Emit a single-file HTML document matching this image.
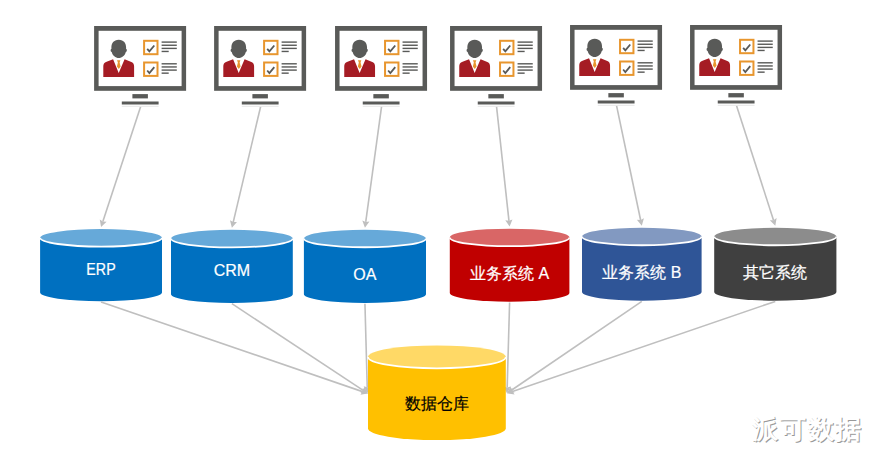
<!DOCTYPE html>
<html><head><meta charset="utf-8">
<style>
html,body{margin:0;padding:0;background:#fff;}
body{width:878px;height:463px;position:relative;overflow:hidden;font-family:"Liberation Sans",sans-serif;}
svg{position:absolute;left:0;top:0;}
.lbl{position:absolute;width:120px;height:20px;line-height:20px;text-align:center;font-size:16px;white-space:nowrap;-webkit-text-stroke:0.2px currentColor;}
.wm{position:absolute;left:752px;top:413.3px;font-size:26px;letter-spacing:1.8px;font-weight:bold;line-height:32px;color:#fff;text-shadow:1px 1px 0 #999;white-space:nowrap;}
</style></head><body>
<svg width="878" height="463" viewBox="0 0 878 463">
<line x1="140.60" y1="106.70" x2="102.86" y2="221.46" stroke="#bfbfbf" stroke-width="1.6"/>
<path d="M101.05 226.97 L99.75 219.39 L102.86 221.46 L106.59 221.63 Z" fill="#bfbfbf"/>
<line x1="260.60" y1="106.70" x2="233.24" y2="222.11" stroke="#bfbfbf" stroke-width="1.6"/>
<path d="M231.90 227.75 L229.97 220.30 L233.24 222.11 L236.97 221.96 Z" fill="#bfbfbf"/>
<line x1="381.55" y1="106.70" x2="365.74" y2="221.91" stroke="#bfbfbf" stroke-width="1.6"/>
<path d="M364.95 227.66 L362.31 220.43 L365.74 221.91 L369.44 221.41 Z" fill="#bfbfbf"/>
<line x1="496.55" y1="106.70" x2="508.97" y2="220.83" stroke="#bfbfbf" stroke-width="1.6"/>
<path d="M509.60 226.60 L505.29 220.23 L508.97 220.83 L512.44 219.45 Z" fill="#bfbfbf"/>
<line x1="616.55" y1="105.70" x2="640.61" y2="219.98" stroke="#bfbfbf" stroke-width="1.6"/>
<path d="M641.80 225.66 L636.88 219.75 L640.61 219.98 L643.92 218.26 Z" fill="#bfbfbf"/>
<line x1="736.55" y1="105.70" x2="773.52" y2="220.14" stroke="#bfbfbf" stroke-width="1.6"/>
<path d="M775.30 225.66 L769.78 220.30 L773.52 220.14 L776.64 218.08 Z" fill="#bfbfbf"/>
<path d="M40.10 237.82 L40.10 292.45 A60.95 8.75 0 0 0 162.00 292.45 L162.00 237.82 Z" fill="#0070c0"/>
<ellipse cx="101.05" cy="237.82" rx="60.95" ry="8.75" fill="#66a9d9"/>
<path d="M40.10 237.82 A60.95 8.75 0 0 0 162.00 237.82" fill="none" stroke="#fff" stroke-width="1.8"/>
<path d="M171.00 238.60 L171.00 294.25 A60.90 8.75 0 0 0 292.80 294.25 L292.80 238.60 Z" fill="#0070c0"/>
<ellipse cx="231.90" cy="238.60" rx="60.90" ry="8.75" fill="#66a9d9"/>
<path d="M171.00 238.60 A60.90 8.75 0 0 0 292.80 238.60" fill="none" stroke="#fff" stroke-width="1.8"/>
<path d="M303.90 238.51 L303.90 294.25 A61.05 8.75 0 0 0 426.00 294.25 L426.00 238.51 Z" fill="#0070c0"/>
<ellipse cx="364.95" cy="238.51" rx="61.05" ry="8.75" fill="#66a9d9"/>
<path d="M303.90 238.51 A61.05 8.75 0 0 0 426.00 238.51" fill="none" stroke="#fff" stroke-width="1.8"/>
<path d="M449.80 237.45 L449.80 292.95 A59.80 8.75 0 0 0 569.40 292.95 L569.40 237.45 Z" fill="#c00000"/>
<ellipse cx="509.60" cy="237.45" rx="59.80" ry="8.75" fill="#d96666"/>
<path d="M449.80 237.45 A59.80 8.75 0 0 0 569.40 237.45" fill="none" stroke="#fff" stroke-width="1.8"/>
<path d="M582.00 236.51 L582.00 291.95 A59.80 8.75 0 0 0 701.60 291.95 L701.60 236.51 Z" fill="#2f5597"/>
<ellipse cx="641.80" cy="236.51" rx="59.80" ry="8.75" fill="#8299c1"/>
<path d="M582.00 236.51 A59.80 8.75 0 0 0 701.60 236.51" fill="none" stroke="#fff" stroke-width="1.8"/>
<path d="M714.20 236.51 L714.20 291.95 A61.10 8.75 0 0 0 836.40 291.95 L836.40 236.51 Z" fill="#404040"/>
<ellipse cx="775.30" cy="236.51" rx="61.10" ry="8.75" fill="#8c8c8c"/>
<path d="M714.20 236.51 A61.10 8.75 0 0 0 836.40 236.51" fill="none" stroke="#fff" stroke-width="1.8"/>
<line x1="101.05" y1="301.90" x2="362.51" y2="391.62" stroke="#bfbfbf" stroke-width="1.6"/>
<path d="M368.00 393.50 L360.40 394.70 L362.51 391.62 L362.74 387.89 Z" fill="#bfbfbf"/>
<line x1="231.90" y1="303.70" x2="363.16" y2="390.31" stroke="#bfbfbf" stroke-width="1.6"/>
<path d="M368.00 393.50 L360.34 392.76 L363.16 390.31 L364.31 386.75 Z" fill="#bfbfbf"/>
<line x1="364.95" y1="303.70" x2="367.24" y2="387.20" stroke="#bfbfbf" stroke-width="1.6"/>
<path d="M367.40 393.00 L363.61 386.30 L367.24 387.20 L370.81 386.10 Z" fill="#bfbfbf"/>
<line x1="509.60" y1="302.40" x2="507.17" y2="387.50" stroke="#bfbfbf" stroke-width="1.6"/>
<path d="M507.00 393.30 L503.60 386.40 L507.17 387.50 L510.79 386.61 Z" fill="#bfbfbf"/>
<line x1="641.80" y1="301.40" x2="511.79" y2="390.03" stroke="#bfbfbf" stroke-width="1.6"/>
<path d="M507.00 393.30 L510.59 386.50 L511.79 390.03 L514.65 392.44 Z" fill="#bfbfbf"/>
<line x1="775.30" y1="301.40" x2="512.49" y2="391.42" stroke="#bfbfbf" stroke-width="1.6"/>
<path d="M507.00 393.30 L512.27 387.69 L512.49 391.42 L514.60 394.50 Z" fill="#bfbfbf"/>
<path d="M368.00 356.90 L368.00 428.60 A68.90 11.40 0 0 0 505.80 428.60 L505.80 356.90 Z" fill="#ffc000"/>
<ellipse cx="436.90" cy="356.90" rx="68.90" ry="11.40" fill="#ffd966"/>
<path d="M368.00 356.90 A68.90 11.40 0 0 0 505.80 356.90" fill="none" stroke="#fff" stroke-width="1.8"/>
<g transform="translate(94.10,26.00)">
<rect x="0" y="0" width="92" height="64.8" fill="#595a58"/>
<rect x="4.5" y="4.8" width="83" height="55.3" fill="#fff"/>
<rect x="38.3" y="68.1" width="15.5" height="4.3" fill="#595a58"/>
<rect x="27.7" y="75.5" width="36.8" height="3" fill="#595a58"/>
<rect x="27.7" y="79.8" width="36.8" height="1" fill="#e6e6e6"/>
<path d="M24.65 13.8 C19.5 13.8 17.3 17.5 17.3 21.5 L17.3 23 C16.3 22.8 16.2 25.8 17.6 26 C18.4 29.5 21.5 32 24.65 32 C27.8 32 30.9 29.5 31.7 26 C33.1 25.8 33 22.8 32 23 L32 21.5 C32 17.5 29.8 13.8 24.65 13.8 Z" fill="#595a58"/>
<path d="M19 33.3 L12.5 35.7 C10 36.7 9.2 38 9.2 40.5 L9.2 50.9 L40 50.9 L40 40.5 C40 38 39.2 36.7 36.7 35.7 L30.5 33.3 L24.6 47 Z" fill="#a51c24"/>
<path d="M22.9 34.2 L26.3 34.2 L25.5 36.6 L26.5 40.5 L24.7 43 L22.8 40.5 L23.8 36.6 Z" fill="#e8962e"/>
<rect x="50" y="14.80" width="13.4" height="13.4" fill="none" stroke="#e8962e" stroke-width="2"/>
<path d="M53.1 22.80 L55.3 25.40 L60.2 19.50" fill="none" stroke="#595a58" stroke-width="1.8"/>
<rect x="50" y="36.50" width="13.4" height="13.4" fill="none" stroke="#e8962e" stroke-width="2"/>
<path d="M53.1 44.50 L55.3 47.10 L60.2 41.20" fill="none" stroke="#595a58" stroke-width="1.8"/>
<rect x="67.5" y="15.40" width="15.2" height="1.4" fill="#595a58"/>
<rect x="67.5" y="18.55" width="15.2" height="1.4" fill="#595a58"/>
<rect x="67.5" y="21.70" width="15.2" height="1.4" fill="#595a58"/>
<rect x="67.5" y="24.75" width="7.1" height="1.4" fill="#595a58"/>
<rect x="67.5" y="37.10" width="15.2" height="1.4" fill="#595a58"/>
<rect x="67.5" y="40.25" width="15.2" height="1.4" fill="#595a58"/>
<rect x="67.5" y="43.40" width="15.2" height="1.4" fill="#595a58"/>
<rect x="67.5" y="46.45" width="7.1" height="1.4" fill="#595a58"/>
</g>
<g transform="translate(214.10,26.00)">
<rect x="0" y="0" width="92" height="64.8" fill="#595a58"/>
<rect x="4.5" y="4.8" width="83" height="55.3" fill="#fff"/>
<rect x="38.3" y="68.1" width="15.5" height="4.3" fill="#595a58"/>
<rect x="27.7" y="75.5" width="36.8" height="3" fill="#595a58"/>
<rect x="27.7" y="79.8" width="36.8" height="1" fill="#e6e6e6"/>
<path d="M24.65 13.8 C19.5 13.8 17.3 17.5 17.3 21.5 L17.3 23 C16.3 22.8 16.2 25.8 17.6 26 C18.4 29.5 21.5 32 24.65 32 C27.8 32 30.9 29.5 31.7 26 C33.1 25.8 33 22.8 32 23 L32 21.5 C32 17.5 29.8 13.8 24.65 13.8 Z" fill="#595a58"/>
<path d="M19 33.3 L12.5 35.7 C10 36.7 9.2 38 9.2 40.5 L9.2 50.9 L40 50.9 L40 40.5 C40 38 39.2 36.7 36.7 35.7 L30.5 33.3 L24.6 47 Z" fill="#a51c24"/>
<path d="M22.9 34.2 L26.3 34.2 L25.5 36.6 L26.5 40.5 L24.7 43 L22.8 40.5 L23.8 36.6 Z" fill="#e8962e"/>
<rect x="50" y="14.80" width="13.4" height="13.4" fill="none" stroke="#e8962e" stroke-width="2"/>
<path d="M53.1 22.80 L55.3 25.40 L60.2 19.50" fill="none" stroke="#595a58" stroke-width="1.8"/>
<rect x="50" y="36.50" width="13.4" height="13.4" fill="none" stroke="#e8962e" stroke-width="2"/>
<path d="M53.1 44.50 L55.3 47.10 L60.2 41.20" fill="none" stroke="#595a58" stroke-width="1.8"/>
<rect x="67.5" y="15.40" width="15.2" height="1.4" fill="#595a58"/>
<rect x="67.5" y="18.55" width="15.2" height="1.4" fill="#595a58"/>
<rect x="67.5" y="21.70" width="15.2" height="1.4" fill="#595a58"/>
<rect x="67.5" y="24.75" width="7.1" height="1.4" fill="#595a58"/>
<rect x="67.5" y="37.10" width="15.2" height="1.4" fill="#595a58"/>
<rect x="67.5" y="40.25" width="15.2" height="1.4" fill="#595a58"/>
<rect x="67.5" y="43.40" width="15.2" height="1.4" fill="#595a58"/>
<rect x="67.5" y="46.45" width="7.1" height="1.4" fill="#595a58"/>
</g>
<g transform="translate(335.05,26.00)">
<rect x="0" y="0" width="92" height="64.8" fill="#595a58"/>
<rect x="4.5" y="4.8" width="83" height="55.3" fill="#fff"/>
<rect x="38.3" y="68.1" width="15.5" height="4.3" fill="#595a58"/>
<rect x="27.7" y="75.5" width="36.8" height="3" fill="#595a58"/>
<rect x="27.7" y="79.8" width="36.8" height="1" fill="#e6e6e6"/>
<path d="M24.65 13.8 C19.5 13.8 17.3 17.5 17.3 21.5 L17.3 23 C16.3 22.8 16.2 25.8 17.6 26 C18.4 29.5 21.5 32 24.65 32 C27.8 32 30.9 29.5 31.7 26 C33.1 25.8 33 22.8 32 23 L32 21.5 C32 17.5 29.8 13.8 24.65 13.8 Z" fill="#595a58"/>
<path d="M19 33.3 L12.5 35.7 C10 36.7 9.2 38 9.2 40.5 L9.2 50.9 L40 50.9 L40 40.5 C40 38 39.2 36.7 36.7 35.7 L30.5 33.3 L24.6 47 Z" fill="#a51c24"/>
<path d="M22.9 34.2 L26.3 34.2 L25.5 36.6 L26.5 40.5 L24.7 43 L22.8 40.5 L23.8 36.6 Z" fill="#e8962e"/>
<rect x="50" y="14.80" width="13.4" height="13.4" fill="none" stroke="#e8962e" stroke-width="2"/>
<path d="M53.1 22.80 L55.3 25.40 L60.2 19.50" fill="none" stroke="#595a58" stroke-width="1.8"/>
<rect x="50" y="36.50" width="13.4" height="13.4" fill="none" stroke="#e8962e" stroke-width="2"/>
<path d="M53.1 44.50 L55.3 47.10 L60.2 41.20" fill="none" stroke="#595a58" stroke-width="1.8"/>
<rect x="67.5" y="15.40" width="15.2" height="1.4" fill="#595a58"/>
<rect x="67.5" y="18.55" width="15.2" height="1.4" fill="#595a58"/>
<rect x="67.5" y="21.70" width="15.2" height="1.4" fill="#595a58"/>
<rect x="67.5" y="24.75" width="7.1" height="1.4" fill="#595a58"/>
<rect x="67.5" y="37.10" width="15.2" height="1.4" fill="#595a58"/>
<rect x="67.5" y="40.25" width="15.2" height="1.4" fill="#595a58"/>
<rect x="67.5" y="43.40" width="15.2" height="1.4" fill="#595a58"/>
<rect x="67.5" y="46.45" width="7.1" height="1.4" fill="#595a58"/>
</g>
<g transform="translate(450.05,26.00)">
<rect x="0" y="0" width="92" height="64.8" fill="#595a58"/>
<rect x="4.5" y="4.8" width="83" height="55.3" fill="#fff"/>
<rect x="38.3" y="68.1" width="15.5" height="4.3" fill="#595a58"/>
<rect x="27.7" y="75.5" width="36.8" height="3" fill="#595a58"/>
<rect x="27.7" y="79.8" width="36.8" height="1" fill="#e6e6e6"/>
<path d="M24.65 13.8 C19.5 13.8 17.3 17.5 17.3 21.5 L17.3 23 C16.3 22.8 16.2 25.8 17.6 26 C18.4 29.5 21.5 32 24.65 32 C27.8 32 30.9 29.5 31.7 26 C33.1 25.8 33 22.8 32 23 L32 21.5 C32 17.5 29.8 13.8 24.65 13.8 Z" fill="#595a58"/>
<path d="M19 33.3 L12.5 35.7 C10 36.7 9.2 38 9.2 40.5 L9.2 50.9 L40 50.9 L40 40.5 C40 38 39.2 36.7 36.7 35.7 L30.5 33.3 L24.6 47 Z" fill="#a51c24"/>
<path d="M22.9 34.2 L26.3 34.2 L25.5 36.6 L26.5 40.5 L24.7 43 L22.8 40.5 L23.8 36.6 Z" fill="#e8962e"/>
<rect x="50" y="14.80" width="13.4" height="13.4" fill="none" stroke="#e8962e" stroke-width="2"/>
<path d="M53.1 22.80 L55.3 25.40 L60.2 19.50" fill="none" stroke="#595a58" stroke-width="1.8"/>
<rect x="50" y="36.50" width="13.4" height="13.4" fill="none" stroke="#e8962e" stroke-width="2"/>
<path d="M53.1 44.50 L55.3 47.10 L60.2 41.20" fill="none" stroke="#595a58" stroke-width="1.8"/>
<rect x="67.5" y="15.40" width="15.2" height="1.4" fill="#595a58"/>
<rect x="67.5" y="18.55" width="15.2" height="1.4" fill="#595a58"/>
<rect x="67.5" y="21.70" width="15.2" height="1.4" fill="#595a58"/>
<rect x="67.5" y="24.75" width="7.1" height="1.4" fill="#595a58"/>
<rect x="67.5" y="37.10" width="15.2" height="1.4" fill="#595a58"/>
<rect x="67.5" y="40.25" width="15.2" height="1.4" fill="#595a58"/>
<rect x="67.5" y="43.40" width="15.2" height="1.4" fill="#595a58"/>
<rect x="67.5" y="46.45" width="7.1" height="1.4" fill="#595a58"/>
</g>
<g transform="translate(570.05,25.00)">
<rect x="0" y="0" width="92" height="64.8" fill="#595a58"/>
<rect x="4.5" y="4.8" width="83" height="55.3" fill="#fff"/>
<rect x="38.3" y="68.1" width="15.5" height="4.3" fill="#595a58"/>
<rect x="27.7" y="75.5" width="36.8" height="3" fill="#595a58"/>
<rect x="27.7" y="79.8" width="36.8" height="1" fill="#e6e6e6"/>
<path d="M24.65 13.8 C19.5 13.8 17.3 17.5 17.3 21.5 L17.3 23 C16.3 22.8 16.2 25.8 17.6 26 C18.4 29.5 21.5 32 24.65 32 C27.8 32 30.9 29.5 31.7 26 C33.1 25.8 33 22.8 32 23 L32 21.5 C32 17.5 29.8 13.8 24.65 13.8 Z" fill="#595a58"/>
<path d="M19 33.3 L12.5 35.7 C10 36.7 9.2 38 9.2 40.5 L9.2 50.9 L40 50.9 L40 40.5 C40 38 39.2 36.7 36.7 35.7 L30.5 33.3 L24.6 47 Z" fill="#a51c24"/>
<path d="M22.9 34.2 L26.3 34.2 L25.5 36.6 L26.5 40.5 L24.7 43 L22.8 40.5 L23.8 36.6 Z" fill="#e8962e"/>
<rect x="50" y="14.80" width="13.4" height="13.4" fill="none" stroke="#e8962e" stroke-width="2"/>
<path d="M53.1 22.80 L55.3 25.40 L60.2 19.50" fill="none" stroke="#595a58" stroke-width="1.8"/>
<rect x="50" y="36.50" width="13.4" height="13.4" fill="none" stroke="#e8962e" stroke-width="2"/>
<path d="M53.1 44.50 L55.3 47.10 L60.2 41.20" fill="none" stroke="#595a58" stroke-width="1.8"/>
<rect x="67.5" y="15.40" width="15.2" height="1.4" fill="#595a58"/>
<rect x="67.5" y="18.55" width="15.2" height="1.4" fill="#595a58"/>
<rect x="67.5" y="21.70" width="15.2" height="1.4" fill="#595a58"/>
<rect x="67.5" y="24.75" width="7.1" height="1.4" fill="#595a58"/>
<rect x="67.5" y="37.10" width="15.2" height="1.4" fill="#595a58"/>
<rect x="67.5" y="40.25" width="15.2" height="1.4" fill="#595a58"/>
<rect x="67.5" y="43.40" width="15.2" height="1.4" fill="#595a58"/>
<rect x="67.5" y="46.45" width="7.1" height="1.4" fill="#595a58"/>
</g>
<g transform="translate(690.05,25.00)">
<rect x="0" y="0" width="92" height="64.8" fill="#595a58"/>
<rect x="4.5" y="4.8" width="83" height="55.3" fill="#fff"/>
<rect x="38.3" y="68.1" width="15.5" height="4.3" fill="#595a58"/>
<rect x="27.7" y="75.5" width="36.8" height="3" fill="#595a58"/>
<rect x="27.7" y="79.8" width="36.8" height="1" fill="#e6e6e6"/>
<path d="M24.65 13.8 C19.5 13.8 17.3 17.5 17.3 21.5 L17.3 23 C16.3 22.8 16.2 25.8 17.6 26 C18.4 29.5 21.5 32 24.65 32 C27.8 32 30.9 29.5 31.7 26 C33.1 25.8 33 22.8 32 23 L32 21.5 C32 17.5 29.8 13.8 24.65 13.8 Z" fill="#595a58"/>
<path d="M19 33.3 L12.5 35.7 C10 36.7 9.2 38 9.2 40.5 L9.2 50.9 L40 50.9 L40 40.5 C40 38 39.2 36.7 36.7 35.7 L30.5 33.3 L24.6 47 Z" fill="#a51c24"/>
<path d="M22.9 34.2 L26.3 34.2 L25.5 36.6 L26.5 40.5 L24.7 43 L22.8 40.5 L23.8 36.6 Z" fill="#e8962e"/>
<rect x="50" y="14.80" width="13.4" height="13.4" fill="none" stroke="#e8962e" stroke-width="2"/>
<path d="M53.1 22.80 L55.3 25.40 L60.2 19.50" fill="none" stroke="#595a58" stroke-width="1.8"/>
<rect x="50" y="36.50" width="13.4" height="13.4" fill="none" stroke="#e8962e" stroke-width="2"/>
<path d="M53.1 44.50 L55.3 47.10 L60.2 41.20" fill="none" stroke="#595a58" stroke-width="1.8"/>
<rect x="67.5" y="15.40" width="15.2" height="1.4" fill="#595a58"/>
<rect x="67.5" y="18.55" width="15.2" height="1.4" fill="#595a58"/>
<rect x="67.5" y="21.70" width="15.2" height="1.4" fill="#595a58"/>
<rect x="67.5" y="24.75" width="7.1" height="1.4" fill="#595a58"/>
<rect x="67.5" y="37.10" width="15.2" height="1.4" fill="#595a58"/>
<rect x="67.5" y="40.25" width="15.2" height="1.4" fill="#595a58"/>
<rect x="67.5" y="43.40" width="15.2" height="1.4" fill="#595a58"/>
<rect x="67.5" y="46.45" width="7.1" height="1.4" fill="#595a58"/>
</g>
</svg>
<div class="lbl" style="left:41.0px;top:259.8px;color:#fff;transform:scaleX(0.89)">ERP</div>
<div class="lbl" style="left:171.9px;top:260.7px;color:#fff">CRM</div>
<div class="lbl" style="left:304.9px;top:265.0px;color:#fff">OA</div>
<div class="lbl" style="left:449.6px;top:264.0px;color:#fff">业务系统 A</div>
<div class="lbl" style="left:581.8px;top:263.0px;color:#fff">业务系统 B</div>
<div class="lbl" style="left:715.3px;top:263.0px;color:#fff">其它系统</div>
<div class="lbl" style="left:376.9px;top:394.0px;color:#000">数据仓库</div>
<div class="wm">派可数据</div>
</body></html>
